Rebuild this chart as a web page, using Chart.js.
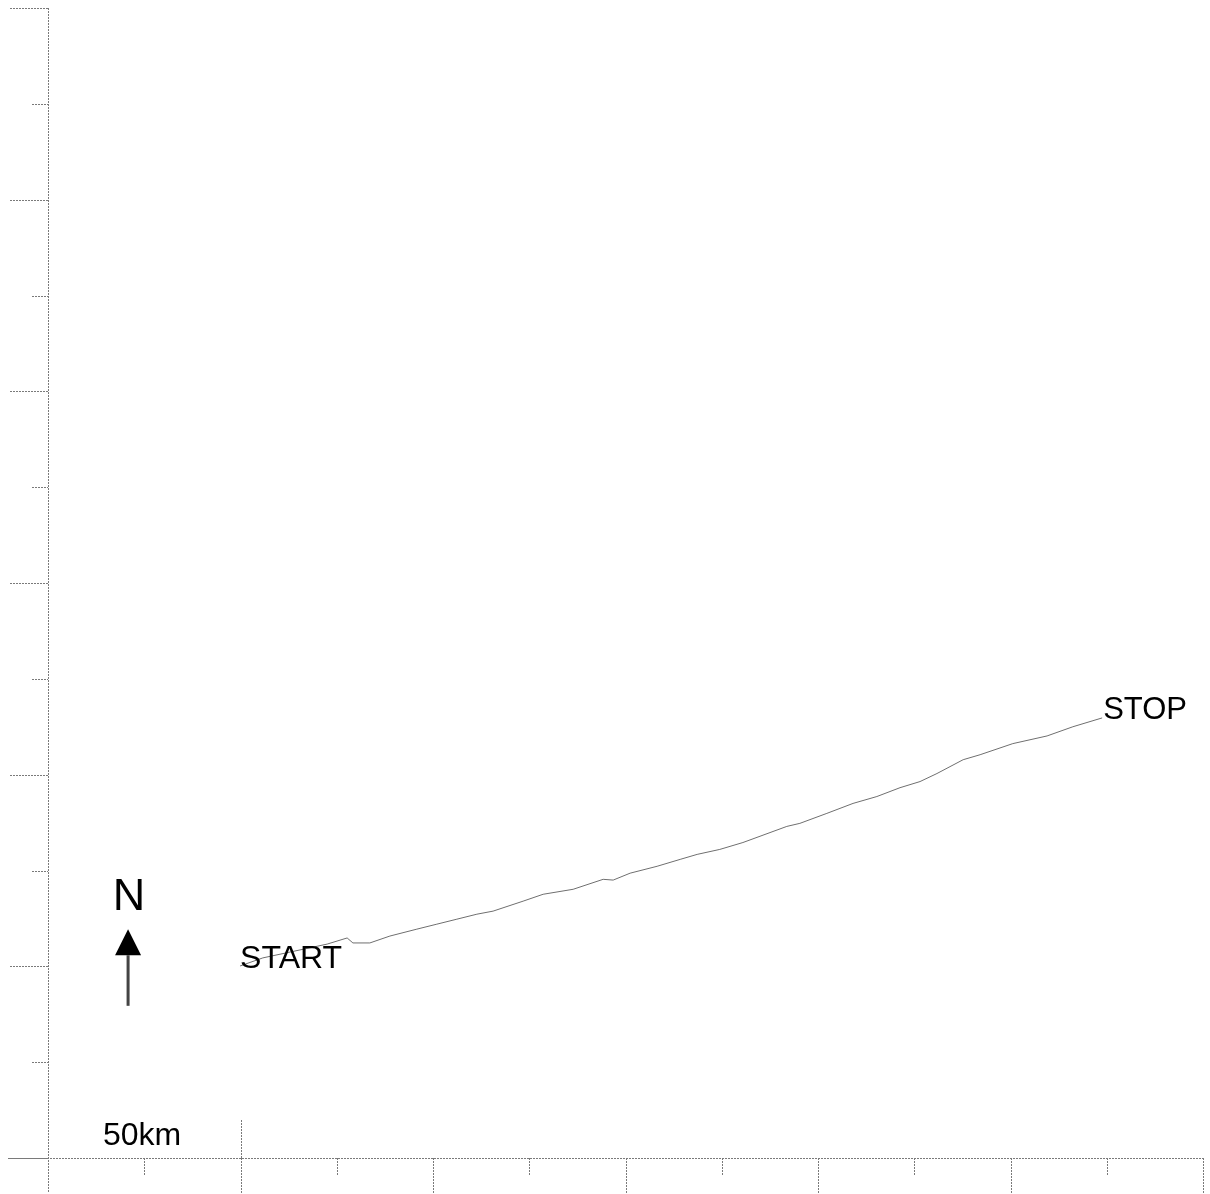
<!DOCTYPE html>
<html>
<head>
<meta charset="utf-8">
<script src="https://cdn.jsdelivr.net/npm/chart.js@4/dist/chart.umd.min.js"></script>
<style>
  html, body { margin: 0; padding: 0; background: #fff; }
  #wrap { width: 1210px; height: 1194px; position: relative; }
</style>
</head>
<body>
<div id="wrap"><canvas id="c"></canvas></div>
<script>
// Track (km east, km north)
const trackX = [49.9, 55.8, 72.5, 77.7, 79.2, 83.6, 88.8, 95.8, 101.0, 106.2, 111.4, 115.6, 123.4, 128.6, 136.4, 144.2, 146.8, 151.2, 158.2, 164.2, 168.6, 174.5, 180.5, 191.9, 195.3, 202.3, 209.1, 215.3, 221.3, 226.5, 230.9, 237.7, 242.1, 250.6, 259.5, 266.2, 273.8];
const trackY = [50.1, 52.2, 55.8, 57.4, 56.1, 56.1, 57.9, 59.7, 61.0, 62.3, 63.6, 64.4, 67.0, 68.8, 70.1, 72.7, 72.5, 74.3, 76.1, 77.9, 79.2, 80.5, 82.3, 86.5, 87.3, 89.9, 92.5, 94.3, 96.6, 98.2, 100.3, 103.9, 105.2, 108.1, 110.1, 112.5, 114.8];
const axisMin = 0, axisMax = 300, majorStep = 50, minorStep = 25;
const startLabel = "START", stopLabel = "STOP";
const northLabel = "N";
const scaleBarKm = 50;
const scaleBarLabel = "50km";
const northArrowX = 20.8, northArrowTip = 59.7, northArrowBase = 52.9, northArrowTail = 39.7;

const points = trackX.map((x, i) => ({ x: x, y: trackY[i] }));

const decor = {
  id: 'decor',
  afterDatasetsDraw(chart) {
    const ctx = chart.ctx;
    const xs = chart.scales.x, ys = chart.scales.y;
    const a = chart.chartArea;
    ctx.save();
    ctx.strokeStyle = '#7a7a7a';
    ctx.lineWidth = 1;
    ctx.setLineDash([2, 1]);
    // axes
    ctx.beginPath();
    ctx.moveTo(a.left + 0.5, a.top);
    ctx.lineTo(a.left + 0.5, a.bottom + 35);
    ctx.moveTo(8, a.bottom + 0.5);
    ctx.lineTo(a.right, a.bottom + 0.5);
    // ticks
    for (let v = axisMin; v <= axisMax; v += minorStep) {
      const major = (v % majorStep) === 0;
      const py = Math.round(ys.getPixelForValue(v)) + 0.5;
      ctx.moveTo(a.left - (major ? 38 : 16), py);
      ctx.lineTo(a.left, py);
      const px = Math.round(xs.getPixelForValue(v)) + 0.5;
      if (v > axisMin) {
        ctx.moveTo(px, a.bottom);
        ctx.lineTo(px, a.bottom + (major ? 35 : 18));
      }
    }
    // scale bar
    const sb = Math.round(xs.getPixelForValue(axisMin + scaleBarKm)) + 0.5;
    ctx.moveTo(sb, a.bottom - 38);
    ctx.lineTo(sb, a.bottom);
    ctx.stroke();
    ctx.setLineDash([]);

    // labels
    ctx.fillStyle = '#000';
    ctx.textBaseline = 'alphabetic';
    ctx.font = '32px "Liberation Sans", Arial, sans-serif';
    ctx.textAlign = 'left';
    const sx = xs.getPixelForValue(trackX[0]), sy = ys.getPixelForValue(trackY[0]);
    ctx.fillText(startLabel, sx, sy + 2);
    ctx.font = '31px "Liberation Sans", Arial, sans-serif';
    const ex = xs.getPixelForValue(trackX[trackX.length - 1]), ey = ys.getPixelForValue(trackY[trackY.length - 1]);
    ctx.fillText(stopLabel, ex + 1, ey + 1);

    ctx.font = '32px "Liberation Sans", Arial, sans-serif';
    ctx.fillText(scaleBarLabel, xs.getPixelForValue(axisMin) + 55, a.bottom - 13);

    // north arrow
    const nx = xs.getPixelForValue(northArrowX);
    const tip = ys.getPixelForValue(northArrowTip);
    const base = ys.getPixelForValue(northArrowBase);
    const tail = ys.getPixelForValue(northArrowTail);
    ctx.beginPath();
    ctx.moveTo(nx, tip);
    ctx.lineTo(nx - 13, base);
    ctx.lineTo(nx + 13, base);
    ctx.closePath();
    ctx.fill();
    ctx.fillStyle = '#444';
    ctx.fillRect(nx - 1.5, base, 3, tail - base);
    ctx.fillStyle = '#000';
    ctx.font = '45px "Liberation Sans", Arial, sans-serif';
    ctx.textAlign = 'center';
    ctx.fillText(northLabel, nx + 1, tip - 19);
    ctx.restore();
  }
};

new Chart(document.getElementById('c'), {
  type: 'scatter',
  data: {
    datasets: [{
      data: points,
      showLine: true,
      borderColor: '#6f6f6f',
      borderWidth: 1,
      pointRadius: 0,
      tension: 0
    }]
  },
  options: {
    responsive: true,
    maintainAspectRatio: false,
    animation: false,
    layout: { padding: { left: 48, top: 8, right: 7, bottom: 36 } },
    plugins: { legend: { display: false }, tooltip: { enabled: false } },
    scales: {
      x: { type: 'linear', min: axisMin, max: axisMax, display: false },
      y: { type: 'linear', min: axisMin, max: axisMax, display: false }
    }
  },
  plugins: [decor]
});
</script>
</body>
</html>
